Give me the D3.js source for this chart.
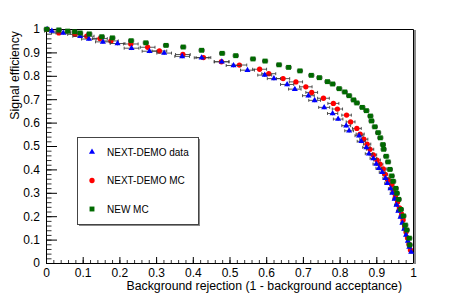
<!DOCTYPE html>
<html>
<head>
<meta charset="utf-8">
<script src="https://cdn.jsdelivr.net/npm/d3@7"></script>
<style>
  body { margin: 0; background: #fff; }
  svg { display: block; font-family: "Liberation Sans", Arial, Helvetica, sans-serif; }
</style>
</head>
<body>
<svg id="chart" width="460" height="294"></svg>
<script>
// values
const xTicks = [0, 0.1, 0.2, 0.3, 0.4, 0.5, 0.6, 0.7, 0.8, 0.9, 1];
const yTicks = [0, 0.1, 0.2, 0.3, 0.4, 0.5, 0.6, 0.7, 0.8, 0.9, 1];
const seriesNames = ["NEXT-DEMO data", "NEXT-DEMO MC", "NEW MC"];

// NEXT-DEMO data (blue)
const dataX = [0.003,0.016,0.047,0.093,0.117,0.155,0.195,0.233,0.282,0.322,0.371,0.424,0.479,0.511,0.549,0.596,0.621,0.657,0.678,0.715,0.732,0.758,0.781,0.796,0.818,0.826,0.853,0.859,0.873,0.880,0.892,0.900,0.907,0.916,0.925,0.930,0.939,0.944,0.950,0.955,0.960,0.966,0.971,0.976,0.981,0.986,0.990,0.995];
const dataY = [0.999,0.991,0.983,0.969,0.957,0.945,0.938,0.918,0.905,0.897,0.883,0.877,0.860,0.844,0.824,0.803,0.788,0.763,0.743,0.715,0.695,0.665,0.639,0.615,0.587,0.565,0.544,0.520,0.494,0.467,0.447,0.423,0.405,0.388,0.362,0.341,0.318,0.299,0.274,0.248,0.222,0.197,0.171,0.145,0.120,0.094,0.068,0.047];
const dataXErr = [0.005,0.02,0.02,0.02,0.02,0.02,0.02,0.02,0.02,0.02,0.02,0.02,0.02,0.02,0.019,0.019,0.018,0.018,0.017,0.016,0.016,0.015,0.014,0.013,0.012,0.012,0.011,0.011,0.010,0.010,0.009,0.009,0.008,0.008,0.007,0.007,0.006,0.006,0.005,0.005,0.005,0.004,0.004,0.004,0.003,0.003,0.003,0.003];
const dataYErr = 0.008;

// NEXT-DEMO MC (red)
const demoMcX = [0.003,0.035,0.079,0.111,0.147,0.177,0.231,0.277,0.309,0.373,0.429,0.478,0.527,0.582,0.607,0.646,0.681,0.708,0.724,0.756,0.783,0.794,0.819,0.830,0.847,0.856,0.866,0.875,0.883,0.892,0.902,0.910,0.919,0.924,0.932,0.942,0.947,0.952,0.958,0.963,0.969,0.973,0.977,0.981,0.985,0.989,0.993];
const demoMcY = [0.998,0.983,0.977,0.969,0.959,0.949,0.936,0.922,0.906,0.891,0.878,0.860,0.846,0.828,0.809,0.788,0.774,0.753,0.729,0.704,0.682,0.658,0.632,0.603,0.575,0.551,0.529,0.508,0.486,0.462,0.440,0.422,0.402,0.379,0.355,0.336,0.312,0.286,0.261,0.235,0.209,0.184,0.158,0.132,0.107,0.081,0.056];
const demoMcXErr = [0.005,0.02,0.02,0.02,0.02,0.02,0.02,0.02,0.02,0.02,0.02,0.02,0.02,0.019,0.019,0.018,0.018,0.017,0.016,0.016,0.015,0.014,0.013,0.012,0.012,0.011,0.011,0.010,0.010,0.009,0.009,0.008,0.008,0.007,0.007,0.006,0.006,0.005,0.005,0.005,0.004,0.004,0.004,0.003,0.003,0.003,0.003];
const demoMcYErr = 0.008;

// NEW MC (green)
const newMcX = [0.002,0.035,0.059,0.078,0.093,0.118,0.152,0.181,0.232,0.272,0.327,0.374,0.424,0.480,0.517,0.564,0.597,0.635,0.661,0.692,0.723,0.745,0.767,0.781,0.799,0.814,0.826,0.838,0.847,0.862,0.873,0.884,0.887,0.896,0.905,0.911,0.918,0.920,0.927,0.932,0.937,0.942,0.946,0.953,0.956,0.961,0.967,0.974,0.979,0.983,0.990,0.991];
const newMcY = [0.999,0.996,0.991,0.988,0.983,0.979,0.967,0.962,0.950,0.941,0.930,0.923,0.909,0.896,0.886,0.872,0.863,0.847,0.836,0.821,0.802,0.792,0.775,0.765,0.745,0.731,0.715,0.697,0.684,0.665,0.651,0.628,0.607,0.582,0.557,0.535,0.506,0.486,0.456,0.432,0.400,0.372,0.349,0.319,0.298,0.272,0.229,0.201,0.162,0.141,0.106,0.077];
const newMcXErr = 0.007;
const newMcYErr = 0.004;

const svg = d3.select("#chart");
const mLeft = 46, mRight = 413, mTop = 29, mBottom = 263;

const x = d3.scaleLinear().domain([0, 1]).range([mLeft, mRight]);
const y = d3.scaleLinear().domain([0, 1]).range([mBottom, mTop]);
const fmt = d3.format("~g");

// frame (top + right), with the grey shadow ROOT puts on the right
svg.append("rect").attr("x", mRight + 1).attr("y", mTop + 1).attr("width", 2).attr("height", mBottom - mTop)
    .attr("fill", "#8a8a8a");
svg.append("path").attr("d", `M${mLeft},${mTop + 0.5}H${mRight + 0.5}V${mBottom}`)
    .attr("fill", "none").attr("stroke", "#000").attr("stroke-width", 1);

// minor ticks
svg.append("g").attr("transform", `translate(0,${mBottom})`)
    .call(d3.axisBottom(x).ticks(50).tickSize(-3).tickFormat(""))
    .call(g => g.select(".domain").remove())
    .selectAll("line").attr("stroke", "#333");
svg.append("g").attr("transform", `translate(${mLeft},0)`)
    .call(d3.axisLeft(y).ticks(50).tickSize(-5.5).tickFormat(""))
    .call(g => g.select(".domain").remove())
    .selectAll("line").attr("stroke", "#333");

// major ticks + labels
const xAxis = svg.append("g").attr("transform", `translate(0,${mBottom})`)
    .call(d3.axisBottom(x).tickValues(xTicks).tickSize(-6).tickSizeOuter(0).tickPadding(5).tickFormat(fmt));
const yAxis = svg.append("g").attr("transform", `translate(${mLeft},0)`)
    .call(d3.axisLeft(y).tickValues(yTicks).tickSize(-11).tickSizeOuter(0).tickPadding(6).tickFormat(fmt));
[xAxis, yAxis].forEach(a => {
    a.attr("font-family", null).attr("font-size", null);
    a.selectAll("text").attr("font-size", 12).attr("fill", "#000");
    a.selectAll("line,path").attr("stroke", "#000");
});

// axis titles, right aligned at the end of the axes like ROOT does
svg.append("text").attr("x", 402).attr("y", 290).attr("text-anchor", "end")
    .attr("font-size", 12.3).text("Background rejection (1 - background acceptance)");
svg.append("text").attr("transform", `translate(18.5,${mTop + 2}) rotate(-90)`).attr("text-anchor", "end")
    .attr("font-size", 12.3).text("Signal efficiency");

const toPoints = (xs, ys, xe, ye) => xs.map((v, i) => ({
    x: v, y: ys[i],
    xe: Array.isArray(xe) ? (xe[i] || 0) : xe,
    ye: Array.isArray(ye) ? (ye[i] || 0) : ye
}));

const series = [
    { name: seriesNames[1], color: "#ff0000", shape: d3.symbolCircle, size: 22, pts: toPoints(demoMcX, demoMcY, demoMcXErr, demoMcYErr) },
    { name: seriesNames[0], color: "#0000ff", shape: d3.symbolTriangle, size: 16, pts: toPoints(dataX, dataY, dataXErr, dataYErr) },
    { name: seriesNames[2], color: "#006a00", shape: d3.symbolSquare, size: 24, pts: toPoints(newMcX, newMcY, newMcXErr, newMcYErr) }
];

series.forEach(s => {
    const g = svg.append("g");
    const err = g.append("g").attr("stroke", "#3a3a3a").attr("stroke-width", 1).attr("fill", "none").attr("stroke-opacity", 0.85);
    err.selectAll("path.h").data(s.pts).join("path").attr("class", "h")
        .attr("d", d => {
            const x0 = x(d.x - d.xe), x1 = x(d.x + d.xe), yy = y(d.y);
            return `M${x0},${yy}H${x1}M${x0},${yy - 1.5}V${yy + 1.5}M${x1},${yy - 1.5}V${yy + 1.5}`;
        });
    err.selectAll("path.v").data(s.pts).join("path").attr("class", "v")
        .attr("d", d => `M${x(d.x)},${y(d.y + d.ye)}V${y(d.y - d.ye)}`);
    g.selectAll("path.m").data(s.pts).join("path").attr("class", "m")
        .attr("transform", d => `translate(${x(d.x)},${y(d.y)})`)
        .attr("d", d3.symbol(s.shape, s.size))
        .attr("fill", s.color);
});

// legend box
const lx = 77, ly = 137, lw = 121, lh = 87;
svg.append("rect").attr("x", lx + 2).attr("y", ly + 2).attr("width", lw).attr("height", lh).attr("fill", "#8a8a8a");
svg.append("rect").attr("x", lx + 0.5).attr("y", ly + 0.5).attr("width", lw).attr("height", lh)
    .attr("fill", "#fff").attr("stroke", "#444").attr("stroke-width", 1);

const legendOrder = [series[1], series[0], series[2]];
legendOrder.forEach((s, i) => {
    const cy = 152 + i * 28.5;
    svg.append("path").attr("transform", `translate(92,${cy})`)
        .attr("d", d3.symbol(s.shape, s.size)).attr("fill", s.color);
    svg.append("text").attr("x", 107).attr("y", cy).attr("dy", "0.35em")
        .attr("font-size", 10).text(s.name);
});
</script>
</body>
</html>
